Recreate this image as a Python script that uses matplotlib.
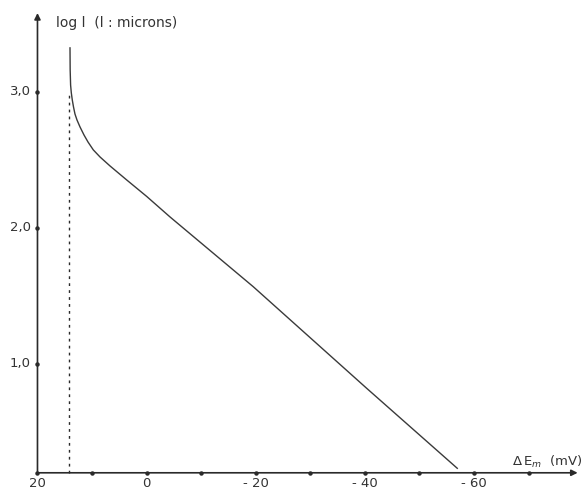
import matplotlib
matplotlib.use("Agg")
import matplotlib.pyplot as plt

# data (mV, log l)
delta_em = [14.04, 14.01, 13.93, 13.80, 13.62, 13.40, 13.13, 12.76, 12.21, 11.48,
            10.74, 9.77, 8.54, 6.71, 3.65, -0.01, -4.29, -19.55, -40.34, -56.94]
log_l = [3.324, 3.162, 3.051, 2.993, 2.941, 2.890, 2.838, 2.794, 2.743, 2.684,
         2.632, 2.574, 2.522, 2.456, 2.353, 2.232, 2.081, 1.568, 0.821, 0.233]

asymptote_x = 14.2
asymptote_top = 3.0

x_ticks = [20, 10, 0, -10, -20, -30, -40, -50, -60, -70]
x_labels = {20: "20", 0: "0", -20: "- 20", -40: "- 40", -60: "- 60"}
y_ticks = [1.0, 2.0, 3.0]
y_labels = ["1,0", "2,0", "3,0"]

x_axis_y = 0.2
x_start, x_end = 20.0, -79.0
y_top = 3.58

fig = plt.figure(figsize=(5.88, 4.90), dpi=100)
ax = fig.add_axes([0, 0, 1, 1])
ax.set_xlim(26.87, -80.9)
ax.set_ylim(0.0735, 3.676)
ax.axis("off")

ink = "#2a2a2a"
txt = "#333333"
fs = 9.5
# axes with arrows
ax.annotate("", xy=(x_end, x_axis_y), xytext=(x_start, x_axis_y),
            arrowprops=dict(arrowstyle="-|>", color=ink, lw=1.2,
                            mutation_scale=9, shrinkA=0, shrinkB=0))
ax.annotate("", xy=(x_start, y_top), xytext=(x_start, x_axis_y),
            arrowprops=dict(arrowstyle="-|>", color=ink, lw=1.2,
                            mutation_scale=9, shrinkA=0, shrinkB=0))

# ticks
ax.plot(x_ticks, [x_axis_y] * len(x_ticks), "o", ms=2.2, color=ink, zorder=3)
ax.plot([x_start] * len(y_ticks), y_ticks, "o", ms=2.2, color=ink, zorder=3)

for v, s in x_labels.items():
    ax.text(v, 0.118, s, ha="center", va="center", fontsize=fs, color=txt)
for v, s in zip(y_ticks, y_labels):
    ax.text(23.2, v, s, ha="center", va="center", fontsize=fs, color=txt)

ax.text(16.6, 3.51, "log l  (l : microns)", ha="left", va="center",
        fontsize=fs + 0.5, color=txt)
ax.text(-67.0, 0.28, r"$\Delta\,$E$_m$  (mV)", ha="left", va="center",
        fontsize=fs, color=txt)

# asymptote
ax.plot([asymptote_x, asymptote_x], [x_axis_y, asymptote_top], ls=(0, (2, 3)),
        lw=1.0, color=ink)

# curve
ax.plot(delta_em, log_l, color="#3a3a3a", lw=1.0, solid_joinstyle="round")

fig.savefig("out.png", dpi=100)
